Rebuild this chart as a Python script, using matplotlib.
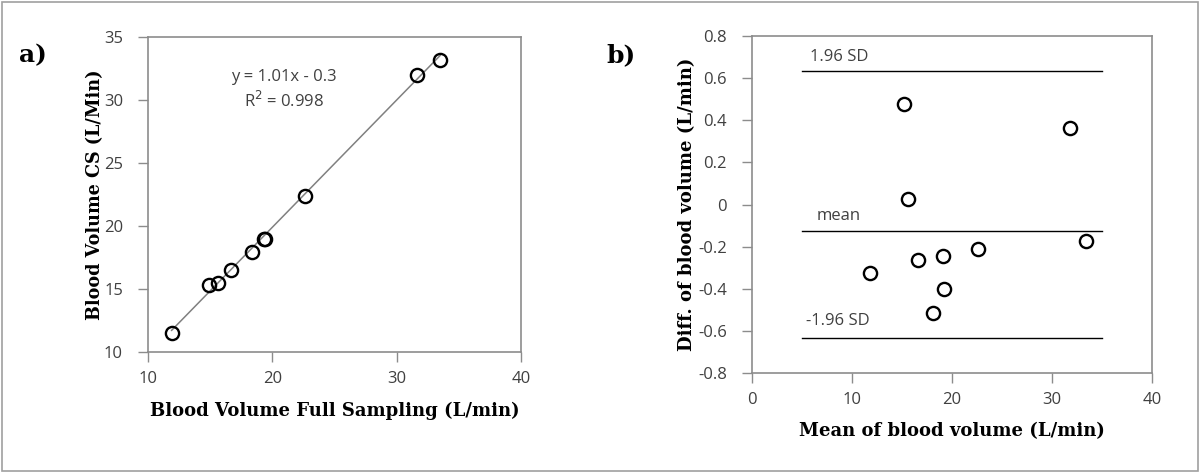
import matplotlib
matplotlib.use("Agg")
import matplotlib.pyplot as plt
from matplotlib.patches import Rectangle
import numpy as np

# panel a) full sampling vs CS
full_x = [11.9, 14.9, 15.6, 16.7, 18.4, 19.3, 19.4, 22.6, 31.6, 33.5]
cs_y = [11.5, 15.3, 15.5, 16.5, 17.9, 19.0, 19.0, 22.4, 32.0, 33.2]
fit_slope = 1.01
fit_icept = -0.3

# panel b) Bland-Altman
ba_mean = [11.75, 15.16, 15.58, 16.61, 19.10, 19.18, 18.14, 22.55, 31.77, 33.38]
ba_diff = [-0.323, 0.478, 0.025, -0.263, -0.246, -0.399, -0.513, -0.209, 0.361, -0.173]
mean_diff = -0.124
sd_up = 0.632
sd_lo = -0.632
line_span = [5, 35]

tick_font = "Open Sans"
label_font = "DejaVu Serif"
tick_col = "#404040"
spine_col = "#8c8c8c"

W, H = 1200, 473
fig = plt.figure(figsize=(W / 100, H / 100), dpi=100)
fig.patches.append(Rectangle((2 / W, 2 / H), 1 - 4 / W, 1 - 4 / H, transform=fig.transFigure,
                             fill=False, edgecolor="#a0a0a0", lw=1.2))


def px_axes(l, t, r, b):
    return fig.add_axes([l / W, 1 - b / H, (r - l) / W, (b - t) / H])


def style(ax):
    for s in ax.spines.values():
        s.set_color(spine_col)
        s.set_linewidth(1.2)
    ax.tick_params(direction="out", length=7, width=1, color=spine_col,
                   labelcolor=tick_col, labelsize=12)
    ax.tick_params(axis="x", pad=7)
    ax.tick_params(axis="y", pad=11)
    for lab in ax.get_xticklabels() + ax.get_yticklabels():
        lab.set_fontfamily(tick_font)


# ---- a)
ax1 = px_axes(148, 37, 521, 352)
xs = np.array([min(full_x), max(full_x)])
ax1.plot(xs, fit_slope * xs + fit_icept, color="#808080", lw=1.1, zorder=1)
ax1.plot(full_x, cs_y, "o", mfc="none", mec="black", ms=9.5, mew=1.7, zorder=2)
ax1.set_xlim(10, 40)
ax1.set_ylim(10, 35)
ax1.set_xticks([10, 20, 30, 40])
ax1.set_yticks([10, 15, 20, 25, 30, 35])
style(ax1)
ax1.text(20.95, 31.8, "y = 1.01x - 0.3", ha="center", va="center", fontsize=12,
         family=tick_font, color=tick_col)
ax1.text(20.95, 29.95, "R$^2$ = 0.998", ha="center", va="center", fontsize=12,
         family=tick_font, color=tick_col)
ax1.set_xlabel("Blood Volume Full Sampling (L/min)", family=label_font, weight="bold",
               fontsize=13, labelpad=10)
ax1.set_ylabel("Blood Volume CS (L/Min)", family=label_font, weight="bold",
               fontsize=12.7, labelpad=0)
fig.text(19 / W, 1 - 55 / H, "a)", family=label_font, weight="bold", fontsize=18,
         va="center", ha="left")

# ---- b)
ax2 = px_axes(752, 36, 1152, 373)
ax2.plot(ba_mean, ba_diff, "o", mfc="none", mec="black", ms=9.5, mew=1.7, zorder=2)
for yv in [sd_up, mean_diff, sd_lo]:
    ax2.plot(line_span, [yv, yv], color="black", lw=1.0, zorder=1)
ax2.text(5.8, 0.70, "1.96 SD", fontsize=12, family=tick_font, color=tick_col, va="center")
ax2.text(6.5, -0.055, "mean", fontsize=12, family=tick_font, color=tick_col, va="center")
ax2.text(5.4, -0.553, "-1.96 SD", fontsize=12, family=tick_font, color=tick_col, va="center")
ax2.set_xlim(0, 40)
ax2.set_ylim(-0.8, 0.8)
ax2.set_xticks([0, 10, 20, 30, 40])
ax2.set_yticks(np.arange(-0.8, 0.81, 0.2))
ax2.set_yticklabels(["-0.8", "-0.6", "-0.4", "-0.2", "0", "0.2", "0.4", "0.6", "0.8"])
style(ax2)
ax2.set_xlabel("Mean of blood volume (L/min)", family=label_font, weight="bold",
               fontsize=13, labelpad=10)
ax2.set_ylabel("Diff. of blood volume (L/min)", family=label_font, weight="bold",
               fontsize=13, labelpad=1.5)
fig.text(606 / W, 1 - 55 / H, "b)", family=label_font, weight="bold", fontsize=18,
         va="center", ha="left")

fig.savefig("out.png", dpi=100)
